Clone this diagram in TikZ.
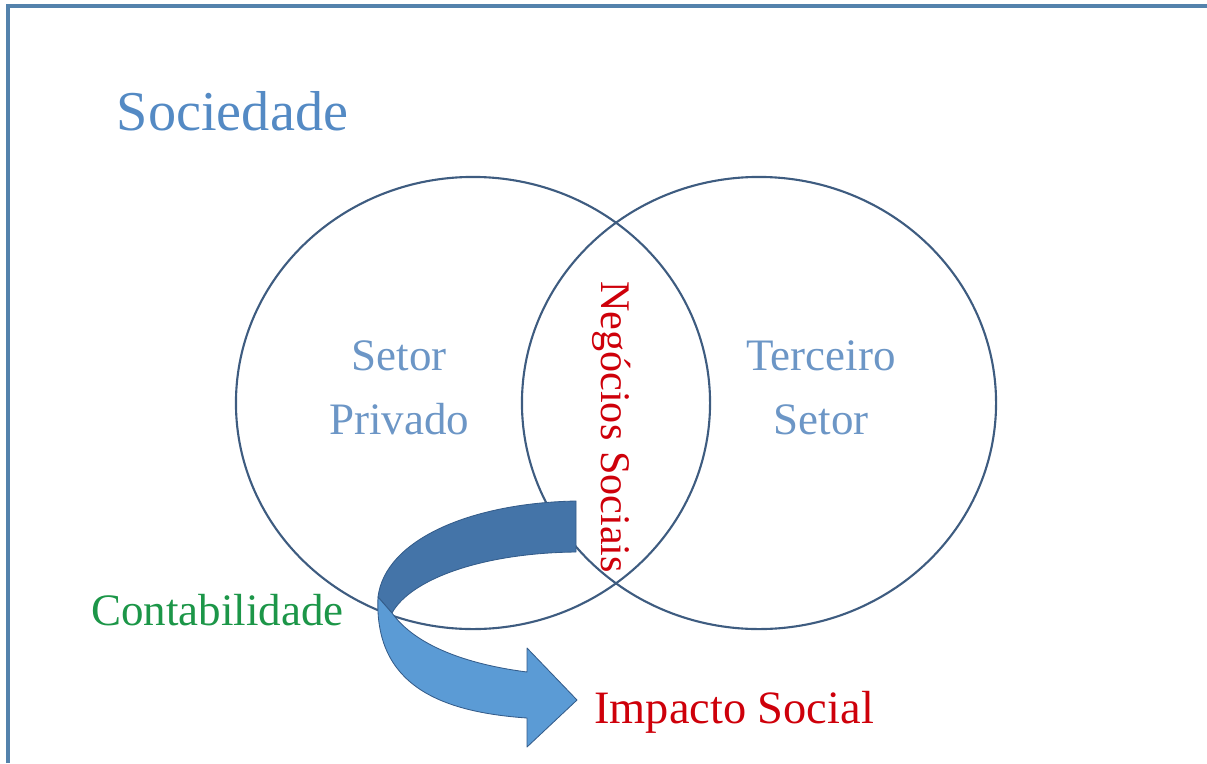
\documentclass[tikz,border=0pt]{standalone}
\usepackage{fontspec}
\setmainfont{Liberation Serif}
\usetikzlibrary{positioning,shapes.geometric}

\definecolor{frameblue}{RGB}{84,130,172}
\definecolor{ringblue}{RGB}{62,92,128}
\definecolor{titleblue}{RGB}{84,138,196}
\definecolor{sectorblue}{RGB}{108,150,198}
\definecolor{bizred}{RGB}{206,0,10}
\definecolor{accgreen}{RGB}{28,150,72}
\definecolor{backblue}{RGB}{68,116,168}
\definecolor{frontblue}{RGB}{91,155,213}
\definecolor{edgeblue}{RGB}{52,92,138}

\tikzset{
    x=0.025cm,
    y=-0.025cm,
    sector/.style = {
        draw=ringblue,
        shape=ellipse,
        line width=1.5pt,
        minimum width=11.85cm,
        minimum height=11.3cm,
        inner sep=0pt
    },
    sectortext/.style = {
        text=sectorblue,
        align=center,
        font=\fontsize{32}{45.5}\selectfont
    },
    title/.style = {
        text=titleblue,
        anchor=base west,
        font=\fontsize{40}{48}\selectfont
    },
    outcome/.style = {
        anchor=base west,
        inner sep=0pt,
        font=\fontsize{32}{38}\selectfont
    },
    ribbon/.style = {
        draw=edgeblue,
        line width=0.6pt,
        line join=round
    }
}

\begin{document}
\begin{tikzpicture}
    \useasboundingbox (0,0) rectangle (1207,763);

    % frame
    \draw[frameblue, line width=2.2pt] (8,763) -- (8,6) -- (1207,6);

    \node[title] (sociedade) at (112,130) {Sociedade};

    \node[sector] (privado) at (473,403) {};
    \node[sector] (terceiro) at (759,403) {};

    \node[sectortext] (privado_txt) at (399,388) {Setor\\Privado};
    \node[sectortext] (terceiro_txt) at (821,388) {Terceiro\\Setor};

    \node[text=bizred, anchor=base, rotate=-90, inner sep=0pt,
          font=\fontsize{30}{36}\selectfont] (negocios) at (601,427) {Negócios Sociais};

    % curved arrow, back part
    \path[ribbon, fill=backblue] (576,501) -- (576,552)
        .. controls (480,553) and (410,580) .. (392,613)
        -- (378,597)
        .. controls (385,540) and (470,503) .. (576,501) -- cycle;
    % curved arrow, front part
    \path[ribbon, fill=frontblue] (378,597)
        .. controls (374,685) and (440,712) .. (527,718)
        -- (527,747) -- (577,700) -- (527,648) -- (527,672)
        .. controls (465,664) and (415,645) .. (392,613) -- cycle;

    \node[outcome, text=accgreen] (contabilidade) at (91,625) {Contabilidade};
    \node[outcome, text=bizred, font=\fontsize{33}{39}\selectfont] (impacto) at (594,723) {Impacto Social};

\end{tikzpicture}
\end{document}
